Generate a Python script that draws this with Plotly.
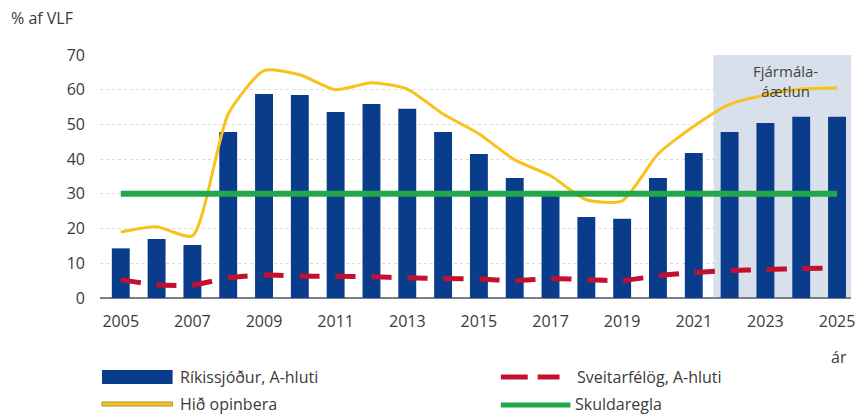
import plotly.graph_objects as go

years = list(range(2005, 2026))
rikissjodur = [14.3, 17.0, 15.3, 47.8, 58.8, 58.5, 53.6, 55.9, 54.5, 47.8, 41.5,
               34.6, 29.6, 23.3, 22.8, 34.6, 41.8, 47.8, 50.4, 52.2, 52.2]
hid_opinbera = [19.0, 20.5, 17.9, 53.0, 65.5, 64.3, 60.0, 62.0, 60.2, 53.0, 47.3,
                39.8, 35.2, 28.3, 28.0, 41.5, 49.5, 55.8, 58.5, 60.2, 60.5]
sveitarfelog = [5.3, 3.8, 3.7, 5.8, 6.6, 6.3, 6.3, 6.1, 5.8, 5.6, 5.5,
                5.0, 5.6, 5.3, 5.0, 6.4, 7.3, 7.9, 8.2, 8.5, 8.6]
skuldaregla = [30] * len(years)
plan_start, plan_label = 2021.55, "Fjármála-<br>áætlun"

W, H = 859, 414
L, R, T, B = 100, 4, 55, 116
PW, PH = W - L - R, H - T - B
FONT = "Open Sans"
TXT = "#3a3a3a"

def px(x):
    return (x - L) / PW

def py(y):
    return (H - B - y) / PH

fig = go.Figure()
fig.add_trace(go.Bar(x=years, y=rikissjodur, width=0.5, marker_color="#0A3C8C",
                     marker_line_width=0, name="Ríkissjóður, A-hluti"))
fig.add_trace(go.Scatter(x=years, y=hid_opinbera, mode="lines", name="Hið opinbera",
                         line=dict(color="#F8C21A", width=3, shape="spline", smoothing=0.6)))
fig.add_trace(go.Scatter(x=years, y=skuldaregla, mode="lines", name="Skuldaregla",
                         line=dict(color="#22A84A", width=6)))
fig.add_trace(go.Scatter(x=years, y=sveitarfelog, mode="lines", name="Sveitarfélög, A-hluti",
                         line=dict(color="#C4102E", width=5, dash="20px,16px",
                                   shape="spline", smoothing=0.6)))

shapes = [
    dict(type="rect", xref="x", yref="y", x0=plan_start, x1=2025.5, y0=0, y1=70,
         fillcolor="#D8E0EB", line_width=0, layer="below"),
    # legend swatches
    dict(type="rect", xref="paper", yref="paper", x0=px(102), x1=px(173), y0=py(384), y1=py(370),
         fillcolor="#0A3C8C", line_width=0),
    dict(type="rect", xref="paper", yref="paper", x0=px(102), x1=px(173), y0=py(406), y1=py(402),
         fillcolor="#F8C21A", line=dict(color="#A89A3A", width=1)),
    dict(type="line", xref="paper", yref="paper", x0=px(503), x1=px(530), y0=py(377), y1=py(377),
         line=dict(color="#C4102E", width=5)),
    dict(type="line", xref="paper", yref="paper", x0=px(540), x1=px(562), y0=py(377), y1=py(377),
         line=dict(color="#C4102E", width=5)),
    dict(type="line", xref="paper", yref="paper", x0=px(503), x1=px(573), y0=py(405), y1=py(405),
         line=dict(color="#22A84A", width=5)),
]

ann = [
    dict(text="% af VLF", x=px(9), y=py(18), xref="paper", yref="paper", xanchor="left",
         yanchor="middle", showarrow=False, font=dict(size=16, color=TXT)),
    dict(text="ár", x=px(853), y=py(357), xref="paper", yref="paper", xanchor="right",
         yanchor="middle", showarrow=False, font=dict(size=16, color=TXT)),
    dict(text=plan_label, x=2023.55, y=62.5, xref="x", yref="y", xanchor="center",
         yanchor="middle", showarrow=False, font=dict(size=15, color="#444"), align="center"),
    dict(text="Ríkissjóður, A-hluti", x=px(178), y=py(377), xref="paper", yref="paper",
         xanchor="left", yanchor="middle", showarrow=False, font=dict(size=16, color=TXT)),
    dict(text="Hið opinbera", x=px(178), y=py(404), xref="paper", yref="paper",
         xanchor="left", yanchor="middle", showarrow=False, font=dict(size=16, color=TXT)),
    dict(text="Sveitarfélög, A-hluti", x=px(578), y=py(377), xref="paper", yref="paper",
         xanchor="left", yanchor="middle", showarrow=False, font=dict(size=16, color=TXT)),
    dict(text="Skuldaregla", x=px(576), y=py(404), xref="paper", yref="paper",
         xanchor="left", yanchor="middle", showarrow=False, font=dict(size=16, color=TXT)),
]

fig.update_layout(
    width=W, height=H, margin=dict(l=L, r=R, t=T, b=B),
    paper_bgcolor="white", plot_bgcolor="white",
    font=dict(family=FONT, color=TXT),
    showlegend=False, shapes=shapes, annotations=ann,
    xaxis=dict(range=[2004.42, 2025.39], tickmode="linear", tick0=2005, dtick=2,
               showgrid=False, zeroline=False, showline=False, ticklabeloverflow="allow",
               tickfont=dict(size=16, color=TXT), ticklabelstandoff=12, fixedrange=True),
    yaxis=dict(range=[0, 70], tickmode="linear", tick0=0, dtick=10,
               showgrid=True, gridcolor="#DCDCDC", griddash="dot", gridwidth=1,
               zeroline=True, zerolinecolor="#7A7F8A", zerolinewidth=1.5,
               showline=False, tickfont=dict(size=16, color=TXT), ticklabelstandoff=14),
    bargap=0.5,
)

fig.write_html("out.html", config={"displayModeBar": False},
               post_script="document.body.style.margin='0';document.body.style.overflow='hidden';")
